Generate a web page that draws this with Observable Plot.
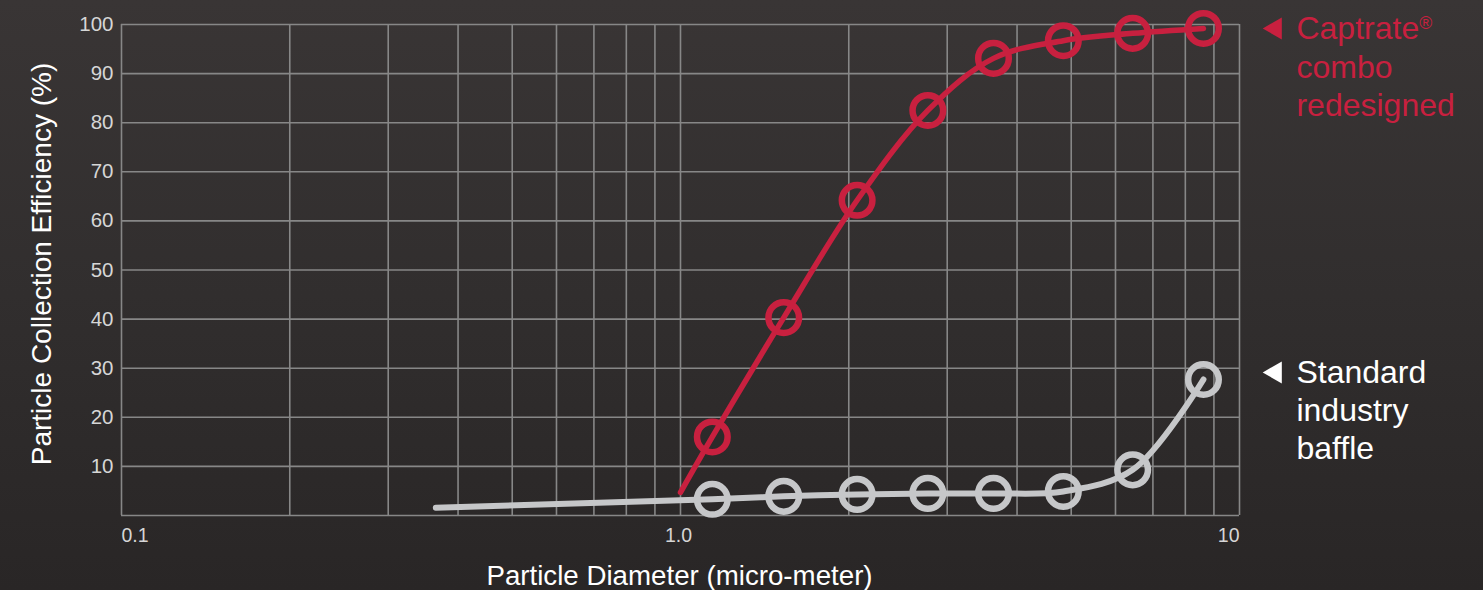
<!DOCTYPE html>
<html>
<head>
<meta charset="utf-8">
<script src="https://cdn.jsdelivr.net/npm/d3@7"></script>
<script src="https://cdn.jsdelivr.net/npm/@observablehq/plot@0.6"></script>
<style>
  html, body { margin: 0; padding: 0; }
  body {
    width: 1483px; height: 590px; overflow: hidden;
    background: linear-gradient(180deg, #393535 0%, #312e2e 50%, #292626 100%);
  }
  #chart svg { display: block; }
</style>
</head>
<body>
<div id="chart"></div>
<script>
// ---- data ----
const diameters = [1.14, 1.53, 2.07, 2.77, 3.63, 4.84, 6.44, 8.62];
const captrateEff = [16.0, 40.3, 64.2, 82.5, 93.1, 96.7, 98.2, 99.2];
const standardEff = [3.3, 3.9, 4.3, 4.5, 4.5, 4.9, 9.3, 27.7];
const captrateLineStart = [1.0, 4.7];
const standardLineStart = [0.365, 1.6];

const yTicks = [10, 20, 30, 40, 50, 60, 70, 80, 90, 100];
const yGrid = [0, 10, 20, 30, 40, 50, 60, 70, 80, 90, 100];
const xTickValues = [0.1, 1, 10];
const xTickLabels = ["0.1", "1.0", "10"];
const xGrid = [0.1, 0.2, 0.3, 0.4, 0.5, 0.6, 0.7, 0.8, 0.9, 1, 2, 3, 4, 5, 6, 7, 8, 9, 10];

const seriesNames = ["Captrate", "Standard"];
const legendLabels = ["Captrate®\ncombo\nredesigned", "Standard\nindustry\nbaffle"];
const xTitle = "Particle Diameter (micro-meter)";
const yTitle = "Particle Collection Efficiency (%)";

// ---- build tables ----
const RED = "#c8203f";
const GRAY = "#c6c7c9";
const captratePts = diameters.map((d, i) => ({d, e: captrateEff[i]}));
const standardPts = diameters.map((d, i) => ({d, e: standardEff[i]}));
const captrateLine = [{d: captrateLineStart[0], e: captrateLineStart[1]}, ...captratePts];
const standardLine = [{d: standardLineStart[0], e: standardLineStart[1]}, ...standardPts];
const redLegend = [{...captratePts[captratePts.length - 1], label: legendLabels[0]}];
const grayLegend = [{...standardPts[standardPts.length - 1], label: legendLabels[1]}];
const fmtX = d => xTickLabels[xTickValues.indexOf(d)];

const FONT = "'Liberation Sans', Arial, Helvetica, sans-serif";
const TICK = "#d6d6d6";
const gridStyle = {stroke: "#878787", strokeOpacity: 1, strokeWidth: 1.6};
const xAxisStyle = {tickSize: 0, tickPadding: 13, fontSize: 19.5, color: TICK, label: null, tickFormat: fmtX};

const plot = Plot.plot({
  width: 1483,
  height: 590,
  marginLeft: 121,
  marginRight: 244,
  marginTop: 24,
  marginBottom: 75,
  style: {background: "transparent", fontFamily: FONT, color: TICK, overflow: "visible"},
  x: {type: "log", domain: [0.1, 10]},
  y: {domain: [0, 100]},
  marks: [
    Plot.gridX(xGrid, gridStyle),
    Plot.gridY(yGrid, gridStyle),
    Plot.axisY({ticks: yTicks, tickSize: 0, tickPadding: 8, fontSize: 20.5, color: TICK, label: null}),
    Plot.axisX({ticks: [xTickValues[0]], textAnchor: "start", ...xAxisStyle}),
    Plot.axisX({ticks: [xTickValues[1]], textAnchor: "middle", dx: -2, ...xAxisStyle}),
    Plot.axisX({ticks: [xTickValues[2]], textAnchor: "end", ...xAxisStyle}),
    Plot.line(standardLine, {x: "d", y: "e", stroke: GRAY, strokeWidth: 6, curve: "catmull-rom", strokeLinecap: "round"}),
    Plot.dot(standardPts, {x: "d", y: "e", r: 15.3, stroke: GRAY, strokeWidth: 6.5, fill: "none"}),
    Plot.line(captrateLine, {x: "d", y: "e", stroke: RED, strokeWidth: 5.5, curve: "catmull-rom", strokeLinecap: "round"}),
    Plot.dot(captratePts, {x: "d", y: "e", r: 15.3, stroke: RED, strokeWidth: 6.5, fill: "none"}),
    // legends anchored on each series' last point
    Plot.dot(redLegend, {x: "d", y: "e", symbol: "triangle", rotate: -90, r: 8.2, fill: RED, stroke: "none", dx: 72, dy: 0}),
    Plot.text(redLegend, {x: "d", y: "e", text: "label", fill: RED, fontSize: 32, lineHeight: 1.19, textAnchor: "start", lineAnchor: "top", dx: 93, dy: -16}),
    Plot.dot(grayLegend, {x: "d", y: "e", symbol: "triangle", rotate: -90, r: 8.2, fill: "#ffffff", stroke: "none", dx: 72, dy: -7}),
    Plot.text(grayLegend, {x: "d", y: "e", text: "label", fill: "#ffffff", fontSize: 32, lineHeight: 1.19, textAnchor: "start", lineAnchor: "top", dx: 93, dy: -24}),
    // axis titles
    Plot.text([xTitle], {frameAnchor: "bottom", text: d => d, fontSize: 27.7, fill: "#ffffff", textAnchor: "middle", lineAnchor: "middle", dy: 61, dx: -1}),
    Plot.text([yTitle], {frameAnchor: "left", text: d => d, fontSize: 28, fill: "#ffffff", rotate: -90, textAnchor: "middle", lineAnchor: "middle", dx: -79, dy: -6})
  ]
});

// superscript the registered sign
plot.querySelectorAll("tspan, text").forEach(t => {
  if (t.childElementCount === 0 && t.textContent.includes("®")) {
    const parts = t.textContent.split("®");
    t.textContent = parts[0];
    const s = document.createElementNS("http://www.w3.org/2000/svg", "tspan");
    s.setAttribute("font-size", "0.55em");
    s.setAttribute("baseline-shift", "super");
    s.textContent = "®";
    t.appendChild(s);
    if (parts[1]) t.appendChild(document.createTextNode(parts[1]));
  }
});

document.getElementById("chart").appendChild(plot);
</script>
</body>
</html>
